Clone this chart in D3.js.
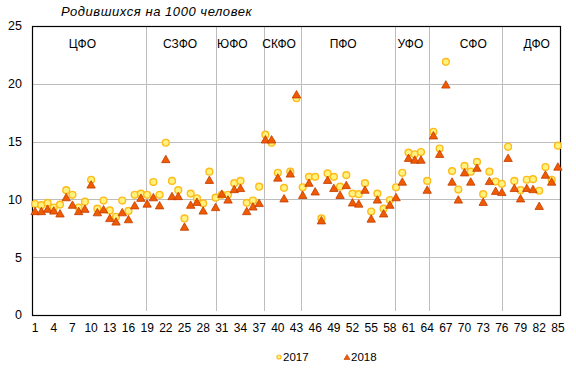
<!DOCTYPE html>
<html>
<head>
<meta charset="utf-8">
<script src="https://cdnjs.cloudflare.com/ajax/libs/d3/7.8.5/d3.min.js"></script>
<style>
    html, body { margin: 0; padding: 0; background: #fff; }
    svg { display: block; font-family: "Liberation Sans", Arial, sans-serif; }
</style>
</head>
<body>
<div id="chart"></div>
<script>
(function() {
    'use strict';

    // Рождаемость по субъектам РФ (номер субъекта 1..85)
    var births2017 = [
        9.6, 9.5, 9.7, 9.3, 9.55, 10.8, 10.4, 9.3, 9.8, 11.7,
        9.2, 9.9, 9.05, 8.5, 9.9, 9.0, 10.4, 10.5, 10.4, 11.5,
        10.4, 14.9, 11.6, 10.8, 8.35, 10.5, 10.1, 9.65, 12.4, 10.15,
        10.4, 10.4, 11.4, 11.6, 9.7, 9.9, 11.1, 15.6, 14.9, 12.3,
        11.0, 12.4, 18.75, 11.05, 11.95, 11.95, 8.35, 12.25, 11.95, 11.1,
        12.1, 10.5, 10.45, 11.4, 8.95, 10.5, 9.2, 9.95, 11.05, 12.3,
        14.05, 13.9, 14.1, 11.6, 15.85, 14.4, 21.9, 12.45, 10.85, 12.9,
        12.4, 13.25, 10.45, 12.4, 11.55, 11.35, 14.55, 11.6, 10.8, 11.7,
        11.75, 10.75, 12.8, 11.7, 14.65
    ];
    var births2018 = [
        9.0, 9.0, 9.2, 9.05, 8.8, 10.2, 9.55, 9.0, 9.2, 11.3,
        8.9, 9.15, 8.4, 8.1, 8.9, 8.3, 9.5, 10.15, 9.65, 10.2,
        9.5, 13.5, 10.3, 10.3, 7.65, 9.55, 9.8, 9.05, 11.7, 9.35,
        10.5, 10.0, 10.9, 11.0, 9.0, 9.4, 9.7, 15.2, 15.2, 11.9,
        10.1, 12.25, 19.1, 10.4, 11.45, 10.7, 8.2, 11.7, 11.0, 10.4,
        11.25, 9.75, 9.65, 10.85, 8.35, 10.0, 8.8, 9.55, 10.2, 11.55,
        13.6, 13.45, 13.45, 10.85, 15.55, 13.95, 19.95, 11.55, 10.0, 12.35,
        11.55, 12.75, 9.8, 11.6, 10.75, 10.65, 13.6, 11.0, 10.1, 11.0,
        10.9, 9.45, 12.15, 11.55, 12.85
    ];

    // федеральные округа: подпись, её положение и разделители (в номерах субъектов)
    var districtNames = ['ЦФО', 'СЗФО', 'ЮФО', 'СКФО', 'ПФО', 'УФО', 'СФО', 'ДФО'];
    var districtLabelAt = [8.6, 24.3, 32.7, 40.2, 50.5, 61.3, 71.4, 81.6];
    var districtBreaks = [18.8, 30, 37.7, 43.8, 58.9, 64.3, 76];

    var xTicks = [1, 4, 7, 10, 13, 16, 19, 22, 25, 28, 31, 34, 37, 40, 43,
        46, 49, 52, 55, 58, 61, 64, 67, 70, 73, 76, 79, 82, 85];
    var yTicks = [0, 5, 10, 15, 20, 25];
    var seriesNames = ['2017', '2018'];

    var width = 576;
    var height = 376;
    var margin = { top: 26, right: 15, bottom: 61, left: 32 };

    var regions = d3.range(1, births2017.length + 1);

    var x = d3.scaleLinear()
        .domain([0.5, regions.length + 0.5])
        .range([margin.left, width - margin.right]);
    var y = d3.scaleLinear()
        .domain([0, 25])
        .range([height - margin.bottom, margin.top]);

    var svg = d3.select('#chart').append('svg')
        .attr('width', width)
        .attr('height', height);

    // triangle centred on its bounding box, like the spreadsheet marker
    function trianglePath(w, h) {
        return 'M0,' + (-h / 2) + 'L' + (w / 2) + ',' + (h / 2) + 'L' + (-w / 2) + ',' + (h / 2) + 'Z';
    }

    // horizontal grid
    svg.append('g')
        .selectAll('line')
        .data(yTicks.filter(function(d) { return d > 0 && d < 25; }))
        .enter().append('line')
        .attr('x1', margin.left)
        .attr('x2', width - margin.right)
        .attr('y1', function(d) { return Math.round(y(d)) + 0.5; })
        .attr('y2', function(d) { return Math.round(y(d)) + 0.5; })
        .style('stroke', '#bdbdbd')
        .style('stroke-width', 1);

    // district separators
    svg.append('g')
        .selectAll('line')
        .data(districtBreaks)
        .enter().append('line')
        .attr('x1', function(d) { return Math.round(x(d)) + 0.5; })
        .attr('x2', function(d) { return Math.round(x(d)) + 0.5; })
        .attr('y1', y(25))
        .attr('y2', y(0) - 4)
        .style('stroke', '#bdbdbd')
        .style('stroke-width', 1);

    // plot frame
    svg.append('rect')
        .attr('x', margin.left + 0.5)
        .attr('y', margin.top + 0.5)
        .attr('width', width - margin.left - margin.right - 1)
        .attr('height', height - margin.top - margin.bottom)
        .style('fill', 'none')
        .style('stroke', '#000')
        .style('stroke-width', 1.2);

    // y tick labels
    svg.append('g')
        .selectAll('text')
        .data(yTicks)
        .enter().append('text')
        .attr('x', margin.left - 10)
        .attr('y', function(d) { return y(d); })
        .attr('dy', '0.35em')
        .attr('text-anchor', 'end')
        .style('font-size', '12.5px')
        .style('fill', '#000')
        .text(function(d) { return d; });

    // x tick labels
    svg.append('g')
        .selectAll('text')
        .data(xTicks)
        .enter().append('text')
        .attr('x', function(d) { return x(d); })
        .attr('y', y(0) + 13)
        .attr('dy', '0.35em')
        .attr('text-anchor', 'middle')
        .style('font-size', '12px')
        .style('fill', '#000')
        .text(function(d) { return d; });

    // district names
    svg.append('g')
        .selectAll('text')
        .data(districtNames)
        .enter().append('text')
        .attr('x', function(d, i) { return x(districtLabelAt[i]); })
        .attr('y', 44)
        .attr('dy', '0.35em')
        .attr('text-anchor', 'middle')
        .style('font-size', '12px')
        .style('fill', '#000')
        .text(function(d) { return d; });

    // title
    svg.append('text')
        .attr('x', 61)
        .attr('y', 16)
        .style('font-size', '13px')
        .style('letter-spacing', '0.55px')
        .style('font-style', 'italic')
        .style('fill', '#000')
        .text('Родившихся на 1000 человек');

    // 2017 — circles
    svg.append('g')
        .selectAll('circle')
        .data(births2017)
        .enter().append('circle')
        .attr('cx', function(d, i) { return x(regions[i]); })
        .attr('cy', function(d) { return y(d); })
        .attr('r', 3.4)
        .style('fill', '#fff27e')
        .style('stroke', '#ffbb1c')
        .style('stroke-width', 1.4);

    // 2018 — triangles
    svg.append('g')
        .selectAll('path')
        .data(births2018)
        .enter().append('path')
        .attr('d', trianglePath(8.4, 7.4))
        .attr('transform', function(d, i) { return 'translate(' + x(regions[i]) + ',' + y(d) + ')'; })
        .style('fill', '#f05a00')
        .style('stroke', '#c23c00')
        .style('stroke-width', 0.8);

    // legend
    var legend = svg.append('g');
    var legendX = [279, 347];

    legend.append('circle')
        .attr('cx', legendX[0])
        .attr('cy', 357)
        .attr('r', 2)
        .style('fill', '#fff27e')
        .style('stroke', '#ffbb1c')
        .style('stroke-width', 1.2);

    legend.append('path')
        .attr('d', trianglePath(6, 5))
        .attr('transform', 'translate(' + legendX[1] + ',357)')
        .style('fill', '#f05a00')
        .style('stroke', '#c23c00')
        .style('stroke-width', 0.6);

    legend.selectAll('text')
        .data(seriesNames)
        .enter().append('text')
        .attr('x', function(d, i) { return legendX[i] + 4; })
        .attr('y', 357)
        .attr('dy', '0.35em')
        .style('font-size', '11.5px')
        .style('fill', '#000')
        .text(function(d) { return d; });
})();
</script>
</body>
</html>
